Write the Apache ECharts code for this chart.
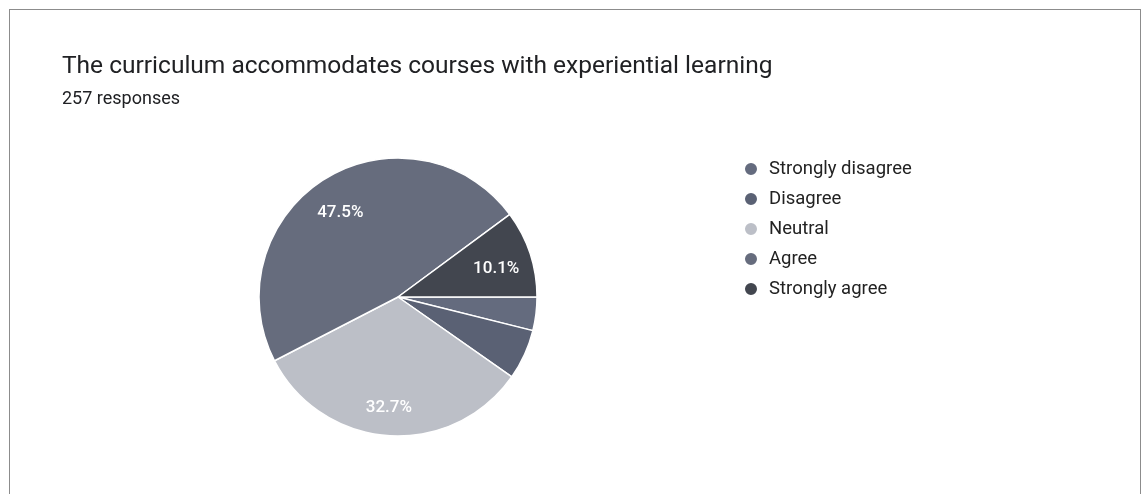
<!DOCTYPE html>
<html>
<head>
<meta charset="utf-8">
<script src="https://cdn.jsdelivr.net/npm/echarts@6/dist/echarts.min.js"></script>
<style>
html, body { margin: 0; padding: 0; background: #fff; }
.frame {
  position: absolute;
  left: 9px; top: 9px;
  width: 1130px; height: 490px;
  border-left: 1px solid #8c8c8c;
  border-top: 1px solid #8c8c8c;
  border-right: 1px solid #8c8c8c;
}
#chartPie { position: absolute; left: 0; top: 0; width: 1141px; height: 494px; }
</style>
</head>
<body>
<div class="frame"></div>
<div id="chartPie"></div>
<script>
// answers, in the order the form lists them
const categories = ['Strongly disagree', 'Disagree', 'Neutral', 'Agree', 'Strongly agree'];
const counts = [10, 15, 84, 122, 26];
const colors = ['#646b7e', '#5a6174', '#bcbfc7', '#666c7d', '#42464f'];

const total = counts.reduce((a, b) => a + b, 0);

let chartPie = echarts.init(document.getElementById('chartPie'));

let pieData = categories.map((name, i) => ({ value: counts[i], name: name }));

chartPie.setOption({
  color: colors,
  title: [
    {
      text: 'The curriculum accommodates courses with experiential learning',
      left: 62,
      top: 54,
      padding: 0,
      textStyle: { fontFamily: 'Roboto', fontSize: 24.5, fontWeight: 'normal', color: '#202124' }
    },
    {
      text: total + ' responses',
      left: 62,
      top: 90,
      padding: 0,
      textStyle: { fontFamily: 'Roboto', fontSize: 18, fontWeight: 'normal', color: '#202124' }
    }
  ],
  legend: {
    orient: 'vertical',
    left: 743,
    top: 159,
    padding: 0,
    icon: 'circle',
    itemWidth: 14,
    itemHeight: 14,
    itemGap: 10,
    data: categories,
    textStyle: { fontFamily: 'Roboto', fontSize: 18.5, lineHeight: 20, color: '#222', padding: [0, 0, 0, 6] }
  },
  series: [
    {
      name: 'answers',
      type: 'pie',
      radius: 139,
      center: [398, 297],
      startAngle: 0,
      clockwise: true,
      silent: true,
      animation: false,
      itemStyle: { borderColor: '#fff', borderWidth: 1.5 },
      label: { show: false },
      labelLine: { show: false },
      data: pieData
    },
    {
      // label layer only, keeps the percentages out towards the rim
      name: 'labels',
      type: 'pie',
      radius: [66, 139],
      center: [396, 302],
      startAngle: 0,
      clockwise: true,
      silent: true,
      animation: false,
      itemStyle: { color: 'rgba(0,0,0,0)' },
      label: {
        show: true,
        position: 'inside',
        fontFamily: 'Roboto',
        fontSize: 17,
        fontWeight: 500,
        color: '#fff',
        formatter: p => p.percent >= 8 ? (p.value / total * 100).toFixed(1) + '%' : ''
      },
      labelLine: { show: false },
      data: pieData
    }
  ]
});
</script>
</body>
</html>
